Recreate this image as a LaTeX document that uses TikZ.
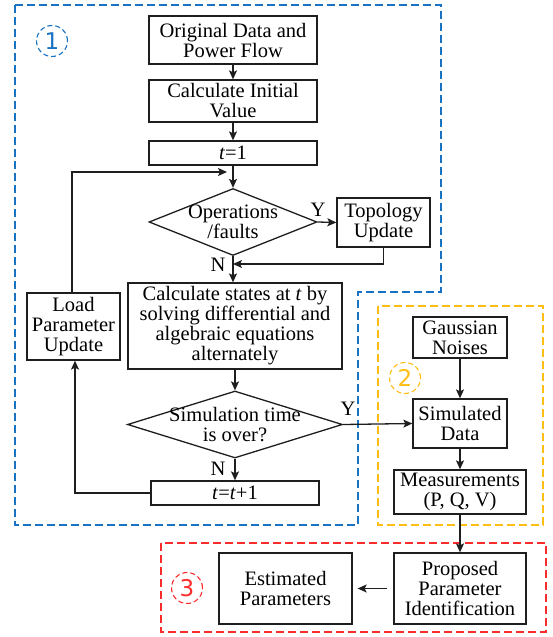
\documentclass[tikz,border=0pt]{standalone}
\usepackage{fontspec}
\setmainfont{Liberation Serif}
\newfontfamily\circfont{DejaVu Sans}
\usetikzlibrary{shapes.geometric,arrows.meta}
\definecolor{grpblue}{RGB}{25,115,195}
\definecolor{grpyellow}{RGB}{255,190,20}
\definecolor{grpred}{RGB}{250,45,45}
\definecolor{ink}{RGB}{30,30,30}
\tikzset{
  box/.style={draw=ink, line width=1.3pt, rectangle, inner sep=0pt, align=center,
    font=\fontsize{20.5}{20}\selectfont},
  decision/.style={draw=ink, line width=1.3pt, diamond, inner sep=0pt, aspect=2.5},
  dtext/.style={inner sep=0pt, align=center, font=\fontsize{20.5}{20}\selectfont},
  lbl/.style={inner sep=0pt, font=\fontsize{20.5}{20}\selectfont},
  arr/.style={draw=ink, line width=1.3pt, -{Stealth[length=9pt,width=8pt,inset=2pt]}},
  grp/.style={line width=1.2pt, dash pattern=on 8pt off 4pt},
  circnum/.style={circle, line width=1.1pt, dash pattern=on 5pt off 3pt,
    minimum size=31pt, inner sep=0pt, font=\circfont\fontsize{23}{23}\selectfont}
}
\begin{document}
\begin{tikzpicture}[x=1pt,y=-1pt]
\useasboundingbox (0,0) rectangle (553,637);
% group frames
\draw[grp, draw=grpblue] (15,5) -- (441,5) -- (441,292) -- (358,292) -- (358,525) -- (15,525) -- cycle;
\draw[grp, draw=grpyellow] (378,306) rectangle (543,525);
\draw[grp, draw=grpred] (161,543) rectangle (546,632);
\node[circnum, draw=grpblue, text=grpblue] (c1) at (52,41) {1};
\node[circnum, draw=grpyellow, text=grpyellow] (c2) at (405,378) {2};
\node[circnum, draw=grpred, text=grpred] (c3) at (187,588) {3};
% nodes
\node[box, minimum width=168pt, minimum height=48pt] (orig) at (233,40) {Original Data and\\Power Flow};
\node[box, minimum width=168pt, minimum height=42pt] (init) at (233,101) {Calculate Initial\\Value};
\node[box, minimum width=168pt, minimum height=24pt] (t1) at (233,153) {\textit{t}=1};
\node[decision, minimum width=168pt, minimum height=67pt] (ops) at (233,222) {};
\node[dtext] (opst) at (ops.center) {Operations\\/faults};
\node[box, minimum width=93pt, minimum height=49pt] (topo) at (383.5,222.5) {Topology\\Update};
\node[box, minimum width=214pt, minimum height=86pt] (calc) at (235,326) {Calculate states at \textit{t} by\\solving differential and\\algebraic equations\\alternately};
\node[box, minimum width=93pt, minimum height=67pt] (load) at (73.5,326.5) {Load\\Parameter\\Update};
\node[decision, minimum width=215pt, minimum height=67pt] (sim) at (235,424.5) {};
\node[dtext] (simt) at (sim.center) {Simulation time\\is over?};
\node[box, minimum width=168pt, minimum height=24pt] (tt) at (235,493) {\textit{t}=\textit{t}+1};
\node[box, minimum width=94pt, minimum height=41pt] (gauss) at (460,337.5) {Gaussian\\Noises};
\node[box, minimum width=94pt, minimum height=49pt] (simd) at (460,423.5) {Simulated\\Data};
\node[box, minimum width=132pt, minimum height=44pt] (meas) at (460,492) {Measurements\\(P, Q, V)};
\node[box, minimum width=132pt, minimum height=71pt] (prop) at (460,588.5) {Proposed\\Parameter\\Identification};
\node[box, minimum width=133pt, minimum height=71pt] (est) at (285.5,588.5) {Estimated\\Parameters};
% labels
\node[lbl] (y1) at (318,210) {Y};
\node[lbl] (n1) at (218,265) {N};
\node[lbl] (y2) at (348,409) {Y};
\node[lbl] (n2) at (218,469) {N};
% helper coordinates
\coordinate (jt) at (233,264);
\coordinate (jf) at (233,172);
\coordinate (lt) at (72,172);
\coordinate (lb) at (75,493);
% connectors
\draw[arr] (orig) -- (init);
\draw[arr] (init) -- (t1);
\draw[arr] (t1) -- (ops);
\draw[arr] (ops.east) -- (topo.west);
\draw[arr] (topo.south) |- (jt);
\draw[arr] (ops.south) -- (ops.south |- calc.north);
\draw[arr, shorten >=6pt] (load.north -| lt) |- (jf);
\draw[arr] (calc.south -| sim.north) -- (sim.north);
\draw[arr] (sim.east) -- (simd.west);
\draw[arr] (sim.south) -- (tt.north);
\draw[arr] (tt.west) -| (load.south -| lb);
\draw[arr] (gauss) -- (simd);
\draw[arr] (simd) -- (meas);
\draw[arr] (meas) -- (prop);
\draw[arr, shorten <=6pt, shorten >=5pt] (prop.west) -- (est.east);
\end{tikzpicture}
\end{document}
